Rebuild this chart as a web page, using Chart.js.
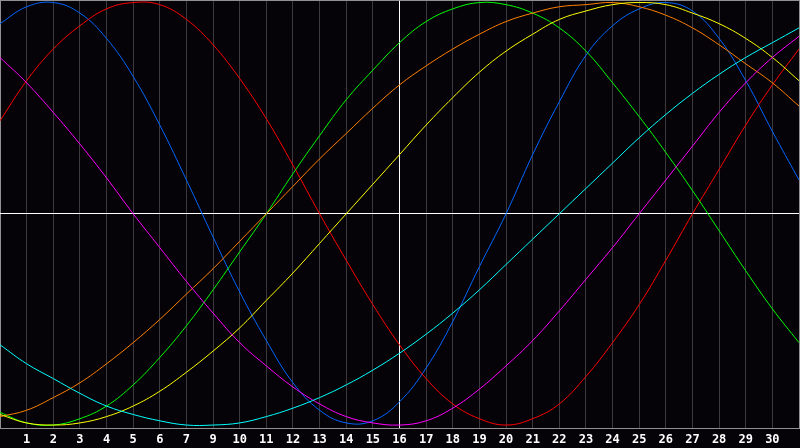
<!DOCTYPE html>
<html>
<head>
<meta charset="utf-8">
<script src="https://cdn.jsdelivr.net/npm/chart.js@4/dist/chart.umd.min.js"></script>
<style>
  html, body { margin: 0; padding: 0; background: #050308; }
  canvas { display: block; }
</style>
</head>
<body>
<canvas id="bio" width="800" height="448"></canvas>
<script>
// day labels under the grid lines (first and last line have none, 8 is missing in the original)
var days = ['', '1', '2', '3', '4', '5', '6', '7', '9', '10', '11', '12', '13', '14', '15',
  '16', '17', '18', '19', '20', '21', '22', '23', '24', '25', '26', '27', '28', '29', '30', ''];

// curve values in percent (-100 .. 100), one per grid line
var blue    = [90, 98, 100, 95, 83, 65, 42, 16, -11, -37, -60, -80, -93, -99, -98, -89,
  -73, -51, -25, 0, 28, 53, 75, 89, 97, 100, 96, 83, 63, 39, 16];
var red     = [44, 63, 78, 89, 97, 100, 99, 92, 80, 64, 45, 23, 0, -22, -43, -62,
  -78, -90, -97, -100, -97, -90, -77, -61, -43, -22, 0, 21, 42, 61, 78];
var magenta = [74, 62, 48, 33, 17, 0, -16, -32, -47, -61, -72, -82, -90, -96, -99, -100,
  -98, -92, -83, -72, -60, -46, -31, -16, 0, 16, 32, 48, 62, 74, 84];
var green   = [-94, -99, -100, -97, -91, -81, -68, -53, -36, -18, 0, 19, 37, 54, 68, 81,
  91, 97, 100, 99, 95, 88, 77, 62, 46, 29, 11, -8, -27, -45, -61];
var orange  = [-96, -93, -87, -80, -71, -61, -50, -38, -26, -13, 0, 13, 26, 38, 50, 61,
  70, 78, 85, 91, 95, 98, 99, 100, 98, 94, 88, 80, 71, 62, 51];
var yellow  = [-95, -99, -100, -99, -96, -91, -84, -75, -65, -54, -41, -28, -14, 0, 14, 28,
  42, 55, 67, 77, 85, 92, 96, 99, 100, 99, 95, 90, 83, 74, 63];
var cyan    = [-62, -71, -78, -85, -91, -95, -98, -100, -100, -99, -96, -92, -87, -81, -74, -66,
  -57, -47, -36, -24, -12, 0, 12, 24, 36, 47, 57, 66, 74, 81, 88];

var yMin = -101.4;
var yMax = 101.2;

function line(values, color) {
  return {
    data: values,
    borderColor: color,
    borderWidth: 1,
    pointRadius: 0,
    fill: false,
    tension: 0.4
  };
}

new Chart(document.getElementById('bio'), {
  type: 'line',
  data: {
    labels: days,
    datasets: [
      line(cyan, '#00ffff'),
      line(magenta, '#ff00ff'),
      line(yellow, '#ffff00'),
      line(orange, '#ff8000'),
      line(green, '#00ff00'),
      line(red, '#ff0000'),
      line(blue, '#0066ff')
    ]
  },
  options: {
    responsive: false,
    animation: false,
    devicePixelRatio: 1,
    layout: { padding: { left: 0, right: 1, top: 0, bottom: 0 } },
    plugins: {
      legend: { display: false },
      tooltip: { enabled: false }
    },
    scales: {
      x: {
        offset: false,
        afterFit: function (axis) {
          axis.height = 20;
          axis.paddingLeft = 0;
          axis.paddingRight = 0;
        },
        grid: {
          offset: false,
          drawTicks: false,
          lineWidth: 1,
          color: function (ctx) {
            if (ctx.index === 15) return '#ffffff';
            if (ctx.index === 0 || ctx.index === days.length - 1) return '#909090';
            return '#3a3a3e';
          }
        },
        border: { display: true, color: '#909090' },
        ticks: {
          autoSkip: false,
          maxRotation: 0,
          padding: 5,
          color: '#ffffff',
          font: { family: 'DejaVu Sans Mono', size: 12, weight: 'bold' }
        }
      },
      y: {
        min: yMin,
        max: yMax,
        afterFit: function (axis) {
          axis.width = 0;
        },
        afterBuildTicks: function (axis) {
          axis.ticks = [{ value: yMin }, { value: 0 }, { value: yMax }];
        },
        grid: {
          drawTicks: false,
          lineWidth: 1,
          color: function (ctx) {
            return ctx.tick && ctx.tick.value === 0 ? '#ffffff' : '#909090';
          }
        },
        border: { display: false },
        ticks: { display: false }
      }
    }
  }
});
</script>
</body>
</html>
